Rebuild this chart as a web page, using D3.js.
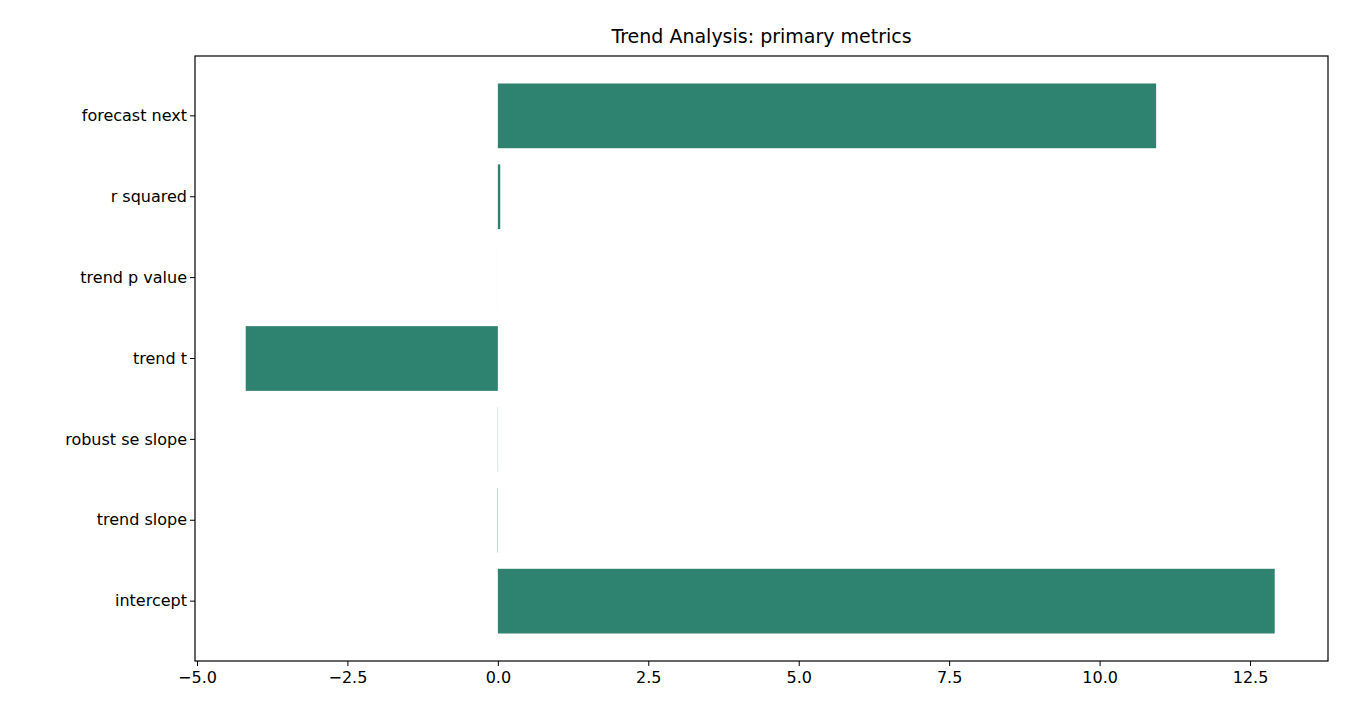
<!DOCTYPE html>
<html><head><meta charset="utf-8">
<script src="https://cdn.jsdelivr.net/npm/d3@7"></script>
<style>body{margin:0;background:#fff}text{font-family:"DejaVu Sans",sans-serif}</style>
</head><body>
<svg id="chart" width="1350" height="720"></svg>
<script>
// values
const categories = ["intercept", "trend slope", "robust se slope", "trend t", "trend p value", "r squared", "forecast next"];
const values = [12.91, -0.005, 0.003, -4.19, 0.0005, 0.04, 10.94];
const xTicks = [-5.0, -2.5, 0.0, 2.5, 5.0, 7.5, 10.0, 12.5];

drawChart();

function drawChart() {
    let svg = d3.select("#chart");
    let left = 195, right = 1328, top = 56, bottom = 661;

    let x = d3.scaleLinear().domain([-5.033, 13.796]).range([left, right]);
    let y = d3.scaleBand().domain(categories.slice().reverse())
        .range([top, bottom]).paddingInner(0.2).paddingOuter(0.34);

    svg.append("g").selectAll("rect")
        .data(categories.map((c, i) => ({c: c, v: values[i]})))
        .join("rect")
        .attr("x", d => x(Math.min(0, d.v)))
        .attr("width", d => Math.abs(x(d.v) - x(0)))
        .attr("y", d => y(d.c))
        .attr("height", y.bandwidth())
        .attr("fill", "#2e8270");

    svg.append("rect").attr("x", left).attr("y", top)
        .attr("width", right - left).attr("height", bottom - top)
        .attr("fill", "none").attr("stroke", "#000").attr("stroke-width", 1.2);

    let xa = svg.append("g").attr("transform", `translate(0,${bottom})`)
        .call(d3.axisBottom(x).tickValues(xTicks).tickFormat(d => d.toFixed(1).replace("-", "\u2212")).tickSizeOuter(0).tickSize(5));
    xa.select(".domain").remove();
    xa.selectAll("text").attr("font-size", 16).attr("fill", "#000").attr("dy", "0.9em");

    let ya = svg.append("g").attr("transform", `translate(${left},0)`)
        .call(d3.axisLeft(y).tickSizeOuter(0).tickSize(5));
    ya.select(".domain").remove();
    ya.selectAll("text").attr("font-size", 16).attr("fill", "#000");

    svg.append("text").attr("x", (left + right) / 2).attr("y", 43)
        .attr("text-anchor", "middle").attr("font-size", 19)
        .text("Trend Analysis: primary metrics");
}
</script>
</body></html>
